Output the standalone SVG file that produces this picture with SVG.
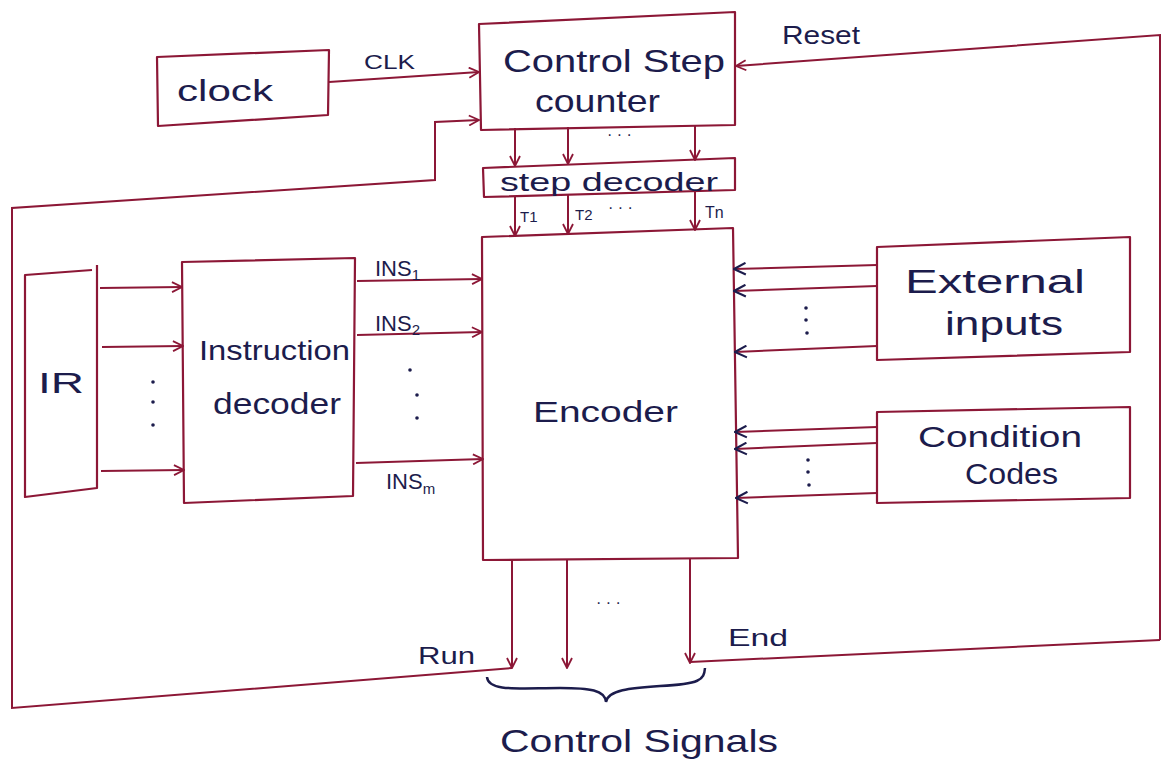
<svg xmlns="http://www.w3.org/2000/svg" width="1164" height="776" viewBox="0 0 1164 776">
<style>
.box{fill:none;stroke:#8c1736;stroke-width:2.2;stroke-linejoin:round}
.ln{fill:none;stroke:#8c1736;stroke-width:2}
.t{font-family:"Liberation Sans",Arial,sans-serif;fill:#1c1c4c}
.dot{fill:#1c1c4c}
</style>
<defs>
<marker id="ar" viewBox="0 0 12 12" refX="11" refY="6" markerWidth="12" markerHeight="12" markerUnits="userSpaceOnUse" orient="auto">
<path d="M1,1 L11,6 L1,11" fill="none" stroke="#8c1736" stroke-width="1.8"/>
</marker>
<marker id="arb" viewBox="0 0 12 12" refX="11" refY="6" markerWidth="14" markerHeight="14" markerUnits="userSpaceOnUse" orient="auto">
<path d="M1,1 L11,6 L1,11" fill="none" stroke="#1c1c4c" stroke-width="1.8"/>
</marker>
</defs>
<rect width="1164" height="776" fill="#ffffff"/>

<g id="clock">
<polygon class="box" points="157,57 329,50 328,115 158,126"/>
<text class="t" x="177" y="101" font-size="30" textLength="96" lengthAdjust="spacingAndGlyphs">clock</text>
</g>

<g id="counter">
<polygon class="box" points="479,24 735,12 735,125 481,130"/>
<text class="t" x="503" y="72" font-size="32" textLength="222" lengthAdjust="spacingAndGlyphs">Control Step</text>
<text class="t" x="535" y="112" font-size="32" textLength="125" lengthAdjust="spacingAndGlyphs">counter</text>
</g>

<g id="stepdecoder">
<polygon class="box" points="483,168 735,158 735,190 484,197"/>
<text class="t" x="500" y="191" font-size="26" textLength="218" lengthAdjust="spacingAndGlyphs">step decoder</text>
</g>

<g id="encoder">
<polygon class="box" points="482,237 733,228 738,558 483,560"/>
<text class="t" x="533" y="422" font-size="30" textLength="145" lengthAdjust="spacingAndGlyphs">Encoder</text>
</g>

<g id="ir">
<polyline class="box" points="97,265 97,488 25,497 25,275 92,270"/>
<text class="t" x="38" y="393" font-size="30" textLength="46" lengthAdjust="spacingAndGlyphs">IR</text>
</g>

<g id="instdecoder">
<polygon class="box" points="182,262 355,258 353,496 184,503"/>
<text class="t" x="199" y="360" font-size="28" textLength="151" lengthAdjust="spacingAndGlyphs">Instruction</text>
<text class="t" x="213" y="414" font-size="30" textLength="128" lengthAdjust="spacingAndGlyphs">decoder</text>
</g>

<g id="external">
<polygon class="box" points="877,247 1130,237 1130,352 877,360"/>
<text class="t" x="905" y="293" font-size="34" textLength="180" lengthAdjust="spacingAndGlyphs">External</text>
<text class="t" x="945" y="335" font-size="34" textLength="118" lengthAdjust="spacingAndGlyphs">inputs</text>
</g>

<g id="condition">
<polygon class="box" points="877,412 1130,407 1130,498 877,503"/>
<text class="t" x="918" y="447" font-size="29" textLength="164" lengthAdjust="spacingAndGlyphs">Condition</text>
<text class="t" x="965" y="484" font-size="29" textLength="93" lengthAdjust="spacingAndGlyphs">Codes</text>
</g>

<g id="connectors">
<line class="ln" x1="329" y1="82" x2="479" y2="72" marker-end="url(#ar)"/>
<polyline class="ln" points="1160,640 1160,35 736,66" marker-end="url(#ar)"/>
<line class="ln" x1="1160" y1="640" x2="690" y2="662"/>
<polyline class="ln" points="512,668 12,708 12,208 435,180 435,122 479,120" marker-end="url(#ar)"/>
<line class="ln" x1="515" y1="128" x2="515" y2="166" marker-end="url(#ar)"/>
<line class="ln" x1="568" y1="127" x2="568" y2="164" marker-end="url(#ar)"/>
<line class="ln" x1="695" y1="126" x2="695" y2="160" marker-end="url(#ar)"/>
<line class="ln" x1="515" y1="196" x2="515" y2="236" marker-end="url(#ar)"/>
<line class="ln" x1="568" y1="194" x2="568" y2="234" marker-end="url(#ar)"/>
<line class="ln" x1="695" y1="191" x2="695" y2="230" marker-end="url(#ar)"/>
<line class="ln" x1="100" y1="288" x2="182" y2="287" marker-end="url(#ar)"/>
<line class="ln" x1="102" y1="347" x2="183" y2="346" marker-end="url(#ar)"/>
<line class="ln" x1="101" y1="471" x2="184" y2="470" marker-end="url(#ar)"/>
<line class="ln" x1="357" y1="281" x2="482" y2="279" marker-end="url(#ar)"/>
<line class="ln" x1="357" y1="335" x2="482" y2="332" marker-end="url(#ar)"/>
<line class="ln" x1="356" y1="463" x2="483" y2="459" marker-end="url(#ar)"/>
<line class="ln" x1="877" y1="265" x2="734" y2="269" marker-end="url(#arb)"/>
<line class="ln" x1="877" y1="286" x2="734" y2="291" marker-end="url(#arb)"/>
<line class="ln" x1="877" y1="346" x2="735" y2="352" marker-end="url(#arb)"/>
<line class="ln" x1="877" y1="427" x2="735" y2="432" marker-end="url(#arb)"/>
<line class="ln" x1="877" y1="443" x2="735" y2="449" marker-end="url(#arb)"/>
<line class="ln" x1="877" y1="493" x2="736" y2="498" marker-end="url(#arb)"/>
<line class="ln" x1="512" y1="560" x2="512" y2="668" marker-end="url(#ar)"/>
<line class="ln" x1="567" y1="560" x2="567" y2="668" marker-end="url(#ar)"/>
<line class="ln" x1="690" y1="559" x2="690" y2="663" marker-end="url(#ar)"/>
<path d="M487,677 C488,692 520,688 560,688 C590,688 605,690 606,702 C608,690 630,688 660,686 C700,684 704,680 705,668" fill="none" stroke="#1c1c4c" stroke-width="2.5"/>
</g>

<g id="labels">
<text class="t" x="364" y="69" font-size="20" textLength="51" lengthAdjust="spacingAndGlyphs">CLK</text>
<text class="t" x="782" y="44" font-size="26" textLength="78" lengthAdjust="spacingAndGlyphs">Reset</text>
<text class="t" x="520" y="222" font-size="15">T1</text>
<text class="t" x="575" y="220" font-size="15">T2</text>
<text class="t" x="608" y="213" font-size="16">· · ·</text>
<text class="t" x="705" y="218" font-size="16">Tn</text>
<text class="t" x="607" y="140" font-size="16">· · ·</text>
<text class="t" x="375" y="276" font-size="22">INS<tspan font-size="15" dy="4">1</tspan></text>
<text class="t" x="375" y="331" font-size="22">INS<tspan font-size="15" dy="4">2</tspan></text>
<text class="t" x="386" y="489" font-size="22">INS<tspan font-size="15" dy="5">m</tspan></text>
<text class="t" x="418" y="664" font-size="24" textLength="57" lengthAdjust="spacingAndGlyphs">Run</text>
<text class="t" x="728" y="646" font-size="24" textLength="60" lengthAdjust="spacingAndGlyphs">End</text>
<text class="t" x="596" y="608" font-size="16">· · ·</text>
<text class="t" x="500" y="752" font-size="32" textLength="278" lengthAdjust="spacingAndGlyphs">Control Signals</text>
<circle class="dot" cx="153" cy="382" r="1.8"/>
<circle class="dot" cx="153" cy="402" r="1.8"/>
<circle class="dot" cx="153" cy="425" r="1.8"/>
<circle class="dot" cx="410" cy="370" r="1.8"/>
<circle class="dot" cx="417" cy="395" r="1.8"/>
<circle class="dot" cx="417" cy="418" r="1.8"/>
<circle class="dot" cx="806" cy="308" r="1.8"/>
<circle class="dot" cx="806" cy="320" r="1.8"/>
<circle class="dot" cx="807" cy="333" r="1.8"/>
<circle class="dot" cx="808" cy="460" r="1.8"/>
<circle class="dot" cx="808" cy="472" r="1.8"/>
<circle class="dot" cx="809" cy="485" r="1.8"/>
</g>
</svg>
